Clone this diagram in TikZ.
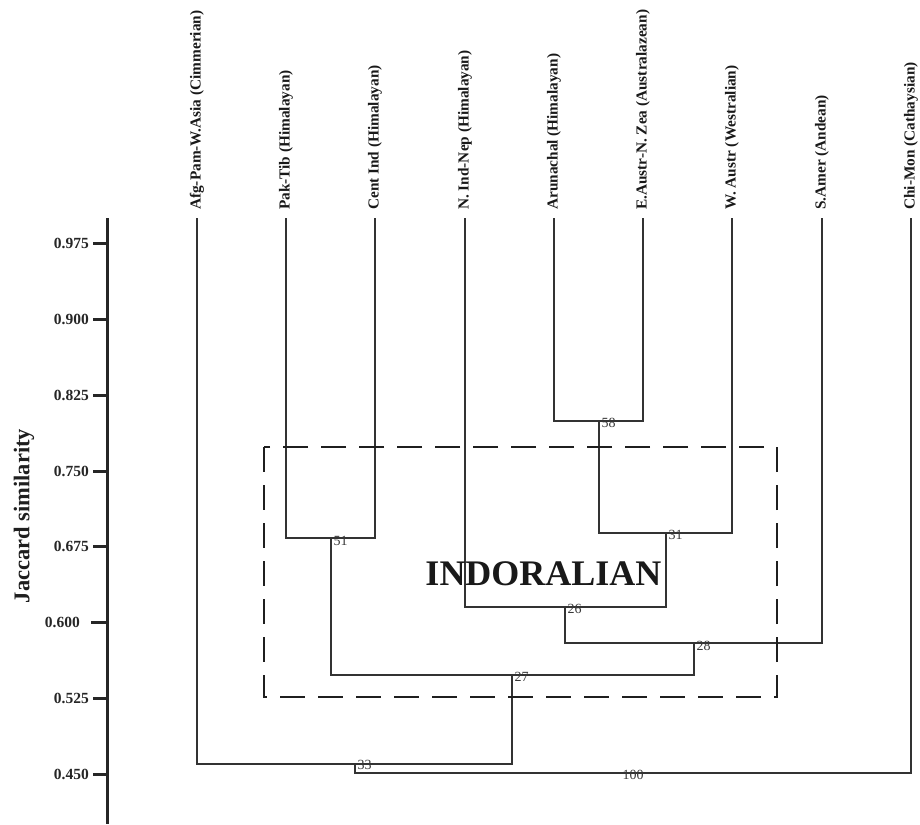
\documentclass[tikz,border=0pt]{standalone}
\usepackage{fontspec}
\setmainfont{Liberation Serif}
\begin{document}
\begin{tikzpicture}[x=1pt,y=-1pt,
  branch/.style={draw=black!80, line width=1.6pt},
  leaflab/.style={rotate=90, anchor=west, inner sep=0pt, text=black!90, font=\fontsize{15.3}{18}\selectfont\bfseries},
  numlab/.style={anchor=west, inner sep=0pt, text=black!78, font=\fontsize{14}{16}\selectfont},
  ticklab/.style={anchor=east, inner sep=0pt, text=black!85, font=\fontsize{15.5}{18}\selectfont\bfseries},
  axisline/.style={draw=black!85, line width=3pt},
  groupbox/.style={draw=black!88, line width=2.8pt, dash pattern=on 25pt off 13pt}]
\useasboundingbox (0,0) rectangle (920,824);

% axis
\coordinate (axtop) at (107,218);
\coordinate (axbot) at (107,824);
\draw[axisline] (axtop) -- (axbot);
\foreach \v/\y/\lx/\tx in {0.975/243.6/89/93,0.900/319.4/89/93,0.825/395.2/89/93,0.750/471/89/93,0.675/546.8/89/93,0.600/622.6/80/91,0.525/698.4/89/93,0.450/774.2/89/93}{
  \draw[axisline] (\tx,\y) -- (107,\y);
  \node[ticklab] (t\v) at (\lx,\y) {\v};
}
\node[rotate=90, inner sep=0pt, text=black!88, font=\fontsize{22.5}{26}\selectfont\bfseries] (ytitle) at (24,516) {Jaccard similarity};

% leaves
\coordinate (afg) at (197,218);
\coordinate (pak) at (286,218);
\coordinate (cen) at (375,218);
\coordinate (nin) at (465,218);
\coordinate (aru) at (554,218);
\coordinate (eau) at (643,218);
\coordinate (wau) at (732,218);
\coordinate (sam) at (822,218);
\coordinate (chi) at (911,218);
\node[leaflab] (lafg) at (197,210) {Afg-Pam-W.Asia (Cimmerian)};
\node[leaflab] (lpak) at (286,210) {Pak-Tib (Himalayan)};
\node[leaflab] (lcen) at (375,210) {Cent Ind (Himalayan)};
\node[leaflab] (lnin) at (465,210) {N. Ind-Nep (Himalayan)};
\node[leaflab] (laru) at (554,210) {Arunachal (Himalayan)};
\node[leaflab] (leau) at (643,210) {E.Austr-N. Zea (Australazean)};
\node[leaflab] (lwau) at (732,210) {W. Austr (Westralian)};
\node[leaflab] (lsam) at (822,210) {S.Amer (Andean)};
\node[leaflab] (lchi) at (911,210) {Chi-Mon (Cathaysian)};

% internal nodes
\coordinate (n58) at (599,421);
\coordinate (n51) at (331,538);
\coordinate (n31) at (666,533);
\coordinate (n26) at (565,607);
\coordinate (n28) at (694,643);
\coordinate (n27) at (512,675);
\coordinate (n33) at (355,764);
\coordinate (n100) at (633,773);

\draw[branch] (aru) |- (n58) -| (eau);
\draw[branch] (pak) |- (n51) -| (cen);
\draw[branch] (n58) |- (n31) -| (wau);
\draw[branch] (nin) |- (n26) -| (n31);
\draw[branch] (n26) |- (n28) -| (sam);
\draw[branch] (n51) |- (n27) -| (n28);
\draw[branch] (afg) |- (n33) -| (n27);
\draw[branch] (n33) |- (n100) -| (chi);

\node[numlab] (l58) at ([shift={(2.5,2)}]n58) {58};
\node[numlab] (l51) at ([shift={(2.5,3)}]n51) {51};
\node[numlab] (l31) at ([shift={(2.5,2)}]n31) {31};
\node[numlab] (l26) at ([shift={(2.5,2)}]n26) {26};
\node[numlab] (l28) at ([shift={(2.5,2.5)}]n28) {28};
\node[numlab] (l27) at ([shift={(2.5,2)}]n27) {27};
\node[numlab] (l33) at ([shift={(2.5,1)}]n33) {33};
\node[numlab, anchor=center] (l100) at ([shift={(0,2)}]n100) {100};

% group
\draw[groupbox] (264,447) rectangle (777,697);
\node[inner sep=0pt, text=black!90, font=\fontsize{36}{40}\selectfont\bfseries] (grp) at (543.5,574) {INDORALIAN};
\end{tikzpicture}
\end{document}
